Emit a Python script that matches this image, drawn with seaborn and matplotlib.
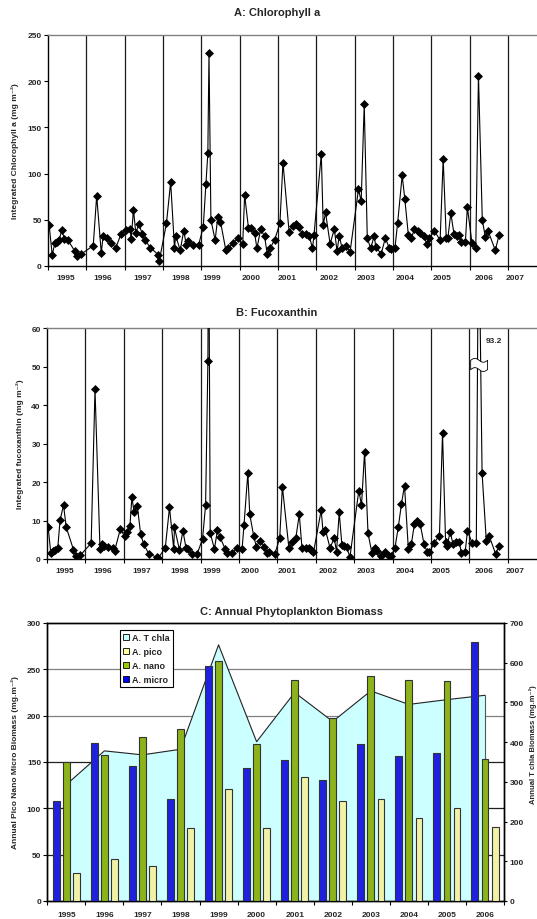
import numpy as np
import pandas as pd
import matplotlib
matplotlib.use("Agg")
import matplotlib.pyplot as plt
from matplotlib.patches import Patch
import seaborn as sns

sns.set_style("ticks")
plt.rcParams["font.family"] = ["Liberation Sans", "DejaVu Sans"]
plt.rcParams["font.weight"] = "bold"

# ---------------- data ----------------
chl_years = [1995.03, 1995.11, 1995.18, 1995.23, 1995.29, 1995.36, 1995.43, 1995.52, 1995.70, 1995.76, 1995.87,
             1996.18, 1996.27, 1996.39, 1996.44, 1996.53, 1996.64, 1996.77, 1996.91,
             1997.03, 1997.14, 1997.17, 1997.23, 1997.29, 1997.37, 1997.46, 1997.53, 1997.67, 1997.88, 1997.90,
             1998.09, 1998.20, 1998.30, 1998.33, 1998.45, 1998.54, 1998.61, 1998.65, 1998.77, 1998.93,
             1999.05, 1999.12, 1999.17, 1999.20, 1999.25, 1999.36, 1999.43, 1999.50, 1999.64, 1999.70, 1999.83, 1999.96,
             2000.08, 2000.13, 2000.23, 2000.29, 2000.39, 2000.45, 2000.55, 2000.65, 2000.72, 2000.79, 2000.91,
             2001.05, 2001.13, 2001.29, 2001.38, 2001.47, 2001.55, 2001.63, 2001.72, 2001.82, 2001.90, 2001.94,
             2002.13, 2002.18, 2002.24, 2002.36, 2002.47, 2002.54, 2002.60, 2002.67, 2002.77, 2002.88,
             2003.10, 2003.17, 2003.25, 2003.33, 2003.42, 2003.51, 2003.55, 2003.69, 2003.80, 2003.90, 2003.95,
             2004.05, 2004.12, 2004.24, 2004.31, 2004.40, 2004.48, 2004.56, 2004.64, 2004.71, 2004.80, 2004.88, 2004.95,
             2005.08, 2005.23, 2005.31, 2005.39, 2005.43, 2005.51, 2005.59, 2005.67, 2005.73, 2005.78, 2005.89, 2005.94,
             2006.06, 2006.16, 2006.23, 2006.33, 2006.41, 2006.48, 2006.67, 2006.77]
chl_vals = [44, 12, 25, 26, 28, 39, 29, 28, 16, 11, 13,
            22, 76, 14, 33, 30, 25, 20, 35,
            39, 40, 29, 61, 36, 45, 35, 28, 20, 12, 5,
            46, 91, 19, 33, 17, 38, 23, 27, 23, 23,
            42, 89, 122, 230, 50, 28, 53, 48, 17, 19, 25, 30,
            24, 77, 41, 41, 36, 19, 40, 32, 13, 19, 28,
            46, 112, 37, 43, 45, 42, 35, 35, 32, 19, 34,
            121, 44, 58, 24, 40, 16, 33, 19, 22, 15,
            83, 70, 175, 30, 19, 33, 21, 13, 30, 20, 18,
            19, 46, 98, 72, 34, 30, 40, 38, 36, 33, 24, 30,
            38, 28, 116, 30, 30, 57, 35, 32, 34, 26, 26, 64,
            25, 19, 206, 50, 31, 38, 17, 34]

fuco_years = [1995.03, 1995.10, 1995.16, 1995.22, 1995.28, 1995.34, 1995.43, 1995.50, 1995.69, 1995.76, 1995.87,
              1996.15, 1996.25, 1996.38, 1996.43, 1996.48, 1996.60, 1996.71, 1996.76, 1996.91,
              1997.02, 1997.09, 1997.16, 1997.21, 1997.27, 1997.35, 1997.44, 1997.52, 1997.66, 1997.86, 1997.90,
              1998.08, 1998.19, 1998.30, 1998.32, 1998.45, 1998.54, 1998.62, 1998.66, 1998.78, 1998.91,
              1999.05, 1999.13, 1999.19, 1999.21, 1999.25, 1999.36, 1999.44, 1999.51, 1999.64, 1999.69, 1999.83, 1999.95,
              2000.08, 2000.13, 2000.23, 2000.28, 2000.38, 2000.45, 2000.55, 2000.66, 2000.72, 2000.79, 2000.93,
              2001.06, 2001.13, 2001.30, 2001.39, 2001.48, 2001.57, 2001.64, 2001.74, 2001.81, 2001.87, 2001.94,
              2002.14, 2002.19, 2002.25, 2002.37, 2002.48, 2002.54, 2002.61, 2002.68, 2002.73, 2002.80, 2002.89,
              2003.12, 2003.19, 2003.27, 2003.36, 2003.46, 2003.54, 2003.59, 2003.71, 2003.81, 2003.90, 2003.95,
              2004.06, 2004.15, 2004.23, 2004.31, 2004.41, 2004.49, 2004.57, 2004.64, 2004.72, 2004.82, 2004.90, 2004.96,
              2005.08, 2005.22, 2005.30, 2005.38, 2005.42, 2005.50, 2005.57, 2005.65, 2005.74, 2005.79, 2005.89, 2005.95,
              2006.07, 2006.18, 2006.24, 2006.33, 2006.44, 2006.51, 2006.68, 2006.78]
fuco_vals = [8.2, 1.5, 2.0, 2.4, 2.8, 10.1, 14.0, 8.3, 2.4, 0.7, 1.0,
             4.1, 44.2, 2.6, 3.8, 3.5, 3.0, 2.9, 2.1, 7.8,
             5.9, 6.9, 8.7, 16.0, 12.1, 13.9, 6.4, 3.8, 1.2, 0.5, 0.3,
             2.9, 13.4, 2.6, 8.2, 2.3, 7.3, 2.9, 2.6, 1.2, 1.3,
             5.2, 14.0, 51.4, 95.0, 6.8, 2.6, 7.6, 5.6, 2.6, 1.6, 1.6, 2.8,
             2.6, 8.8, 22.4, 11.6, 6.1, 3.2, 4.8, 3.2, 1.6, 1.9, 1.2,
             5.4, 18.8, 2.8, 4.3, 5.5, 11.6, 2.9, 2.9, 2.8, 2.3, 1.7,
             12.7, 6.9, 7.6, 2.9, 5.4, 1.9, 12.1, 3.6, 3.5, 3.0, 0.6,
             17.8, 14.0, 27.8, 6.7, 1.6, 2.9, 2.2, 0.9, 1.7, 0.9, 0.7,
             2.8, 8.4, 14.3, 19.1, 2.6, 4.0, 9.2, 10.0, 9.0, 3.8, 1.9, 1.7,
             4.2, 6.1, 32.8, 4.3, 3.5, 7.1, 4.0, 4.5, 4.3, 1.6, 1.9, 7.3,
             4.2, 4.2, 93.2, 22.4, 4.7, 6.1, 1.4, 3.5]

year_labels = [str(y) for y in range(1995, 2008)]
annual_years = [str(y) for y in range(1995, 2007)]
micro = [108, 171, 146, 110, 254, 144, 152, 131, 169, 156, 160, 280]
nano = [150, 158, 177, 186, 259, 169, 238, 197, 243, 238, 237, 153]
pico = [30, 45, 38, 79, 121, 79, 134, 108, 110, 90, 100, 80]
tchla = [293, 378, 368, 382, 645, 401, 525, 452, 529, 495, 507, 518]

# ---------------- figure ----------------
W, H = 537, 920
fig = plt.figure(figsize=(W / 100, H / 100), dpi=100)
fig.patch.set_facecolor("white")

def px_axes(left, top, right, bottom):
    return fig.add_axes([left / W, 1 - bottom / H, (right - left) / W, (bottom - top) / H])

label_pos = [1995.46, 1996.44, 1997.46, 1998.46, 1999.28, 2000.30, 2001.25,
             2002.33, 2003.31, 2004.32, 2005.27, 2006.39, 2007.19]

def ts_panel(ax, years, vals, ymax, ystep):
    for y in range(1996, 2008):
        ax.axvline(y, color="#1a1a1a", lw=0.9, zorder=1)
    sns.lineplot(x=years, y=vals, ax=ax, color="black", lw=0.8, marker="D",
                 markersize=3.6, markeredgecolor="black", markeredgewidth=0.5,
                 estimator=None, sort=False, zorder=3)
    ax.set_xlim(1995, 2008)
    ax.set_ylim(0, ymax)
    ax.set_yticks(np.arange(0, ymax + 1, ystep))
    ax.set_xticks(np.arange(1995, 2009))
    ax.set_xticklabels([])
    ax.set_xticks(label_pos, minor=True)
    ax.set_xticklabels(year_labels, minor=True)
    ax.tick_params(axis="x", which="major", length=3, width=0.8, direction="out", color="black")
    ax.tick_params(axis="x", which="minor", length=0, pad=5.5, labelsize=6)
    ax.tick_params(axis="y", length=3, width=0.8, pad=1.5, labelsize=6, color="black")
    ax.spines["right"].set_visible(False)
    ax.spines["top"].set_color("#808080")
    ax.spines["top"].set_linewidth(1.0)
    for s in ("left", "bottom"):
        ax.spines[s].set_color("black")
        ax.spines[s].set_linewidth(1.0)
    ax.set_xlabel("")
    ax.set_ylabel("")
    ax.set_facecolor("white")

# Panel A
axA = px_axes(48, 36, 546.3, 267)
ts_panel(axA, chl_years, chl_vals, 250, 50)
fig.text(277.5 / W, 1 - 13 / H, "A: Chlorophyll a", ha="center", va="center", fontsize=8, fontweight="bold")
fig.text(15 / W, 1 - 151.5 / H, "Integrated Chlorophyll a (mg m\u207b\u00b2)", rotation=90,
         ha="center", va="center", fontsize=6, fontweight="bold")

# Panel B
axB = px_axes(47, 329.3, 546.2, 560)
ts_panel(axB, fuco_years, fuco_vals, 60, 10)
fig.text(276.5 / W, 1 - 313 / H, "B: Fucoxanthin", ha="center", va="center", fontsize=8, fontweight="bold")
fig.text(20 / W, 1 - 444.5 / H, "Integrated fucoxanthin (mg m\u207b\u00b2)", rotation=90,
         ha="center", va="center", fontsize=6, fontweight="bold")
# axis break marker on the 2006 peak
xs = np.linspace(2006.02, 2006.46, 60)
wave = 0.5 * np.sin((xs - 2006.02) / 0.44 * 2 * np.pi)
axB.fill_between(xs, 49.4 + wave, 51.8 + wave, facecolor="white", edgecolor="black", lw=0.6, zorder=5)
axB.text(2006.64, 56.7, "93.2", ha="center", va="center", fontsize=6, fontweight="bold", zorder=6)

# Panel C
axC = px_axes(47.3, 624, 504, 902)
ax2 = axC.twinx()
axC.set_zorder(ax2.get_zorder() + 1)
axC.patch.set_visible(False)

grid_cols = ["#202020", "#202020", "#202020", "#808080", "#808080"]
for v, c in zip([50, 100, 150, 200, 250], grid_cols):
    ax2.axhline(v * 7 / 3, color=c, lw=0.9, zorder=1)
xpos = np.arange(len(annual_years))
ax2.fill_between(xpos, tchla, 0, facecolor="#CCFFFF", edgecolor="none", zorder=2)
ax2.plot(xpos, tchla, color="#222222", lw=0.8, zorder=3)
ax2.plot([xpos[-1], xpos[-1]], [0, tchla[-1]], color="#555555", lw=0.8, zorder=3)
ax2.set_ylim(0, 700)
ax2.set_yticks(np.arange(0, 701, 100))
ax2.tick_params(axis="y", length=2.5, width=0.8, pad=1.5, labelsize=6, color="black")

df = pd.DataFrame({
    "year": annual_years * 3,
    "cls": ["A. micro"] * 12 + ["A. nano"] * 12 + ["A. pico"] * 12,
    "value": micro + nano + pico,
})
sns.barplot(data=df, x="year", y="value", hue="cls", hue_order=["A. micro", "A. nano", "A. pico"],
            palette=["#0000FF", "#99CC00", "#FFFF99"], width=0.8, gap=0.33,
            edgecolor="#333333", linewidth=0.8, ax=axC, legend=False, zorder=3)
axC.set_xlim(-0.5, 11.5)
axC.set_ylim(0, 300)
axC.set_yticks(np.arange(0, 301, 50))
axC.set_xlabel("")
axC.set_ylabel("")
axC.set_xticks(np.arange(-0.5, 12, 1), minor=True)
axC.tick_params(axis="x", which="major", length=0, pad=7, labelsize=6)
axC.tick_params(axis="x", which="minor", length=3, width=0.8, color="black")
axC.tick_params(axis="y", length=3, width=0.8, pad=1.5, labelsize=6, color="black")
for ax in (axC, ax2):
    for s in ax.spines.values():
        s.set_color("black")
        s.set_linewidth(1.0)

handles = [Patch(facecolor="#CCFFFF", edgecolor="black", lw=0.6, label="A. T chla"),
           Patch(facecolor="#FFFF99", edgecolor="black", lw=0.6, label="A. pico"),
           Patch(facecolor="#99CC00", edgecolor="black", lw=0.6, label="A. nano"),
           Patch(facecolor="#0000FF", edgecolor="black", lw=0.6, label="A. micro")]
leg = axC.legend(handles=handles, loc="upper left", bbox_to_anchor=((120 - 47.3) / 456.7, (902 - 631) / 278),
                 fontsize=6.5, handlelength=0.7, handleheight=0.7, handletextpad=0.25,
                 labelspacing=0.55, borderpad=0.35, fancybox=False, framealpha=1, borderaxespad=0)
leg.get_frame().set_edgecolor("black")
leg.get_frame().set_linewidth(0.8)

fig.text(291 / W, 1 - 612 / H, "C: Annual Phytoplankton Biomass", ha="center", va="center",
         fontsize=8, fontweight="bold")
fig.text(15 / W, 1 - 763 / H, "Annual Pico Nano Micro Biomass (mg.m\u207b\u00b2)", rotation=90,
         ha="center", va="center", fontsize=6, fontweight="bold")
fig.text(533 / W, 1 - 745 / H, "Annual T chla Biomass (mg.m\u207b\u00b2)", rotation=90,
         ha="center", va="center", fontsize=5.5, fontweight="bold")

fig.savefig("out.png", dpi=100, facecolor="white")
